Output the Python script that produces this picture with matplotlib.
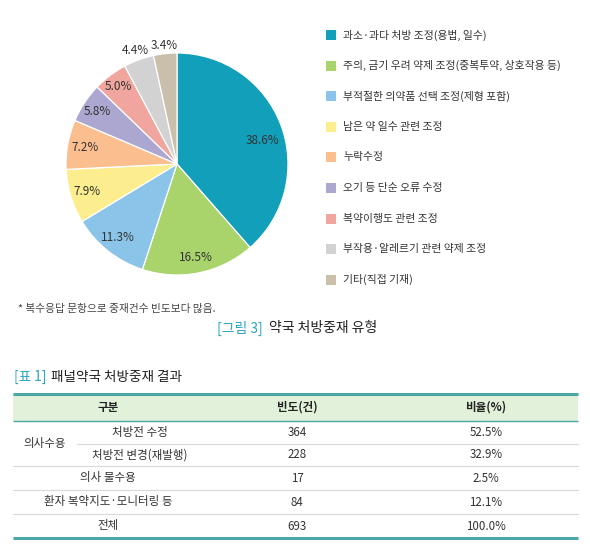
import matplotlib
matplotlib.use("Agg")
import matplotlib.pyplot as plt
from matplotlib.patches import Rectangle
import numpy as np

plt.rcParams['font.family'] = ['Noto Sans CJK KR', 'DejaVu Sans']

# ---------------- data ----------------
categories = ["과소·과다 처방 조정(용법, 일수)",
              "주의, 금기 우려 약제 조정(중복투약, 상호작용 등)",
              "부적절한 의약품 선택 조정(제형 포함)",
              "남은 약 일수 관련 조정",
              "누락수정",
              "오기 등 단순 오류 수정",
              "복약이행도 관련 조정",
              "부작용·알레르기 관련 약제 조정",
              "기타(직접 기재)"]
shares = [38.6, 16.5, 11.3, 7.9, 7.2, 5.8, 5.0, 4.4, 3.4]
share_labels = ["38.6%", "16.5%", "11.3%", "7.9%", "7.2%", "5.8%", "5.0%", "4.4%", "3.4%"]

table_header = ["구분", "빈도(건)", "비율(%)"]
group_label = "의사수용"
row_labels = ["처방전 수정", "처방전 변경(재발행)", "의사 불수용",
              "환자 복약지도·모니터링 등", "전체"]
row_counts = [364, 228, 17, 84, 693]
row_pcts = ["52.5%", "32.9%", "2.5%", "12.1%", "100.0%"]

footnote = "* 복수응답 문항으로 중재건수 빈도보다 많음."
fig_tag = "[그림 3]"
fig_title = "약국 처방중재 유형"
tab_tag = "[표 1]"
tab_title = "패널약국 처방중재 결과"

# ---------------- style ----------------
colors = ["#129fba", "#a9d36b", "#8ac4e8", "#fcee8e", "#fbbe8e",
          "#aba7d0", "#f0a69e", "#d2d2d2", "#c9bfaa"]
label_r = [0.80, 0.86, 0.85, 0.85, 0.84, 0.86, 0.88, 1.09, 1.07]
label_da = [-5, 0, 0, 0, 0, 0, 0, 0, 0]   # small angular nudges (deg)
teal = "#2aa5bd"
line_teal = "#4aa7a6"
txt = "#333333"

W, H = 590, 548
fig = plt.figure(figsize=(W / 100, H / 100), dpi=100)
fig.patch.set_facecolor("white")

# pie axes: center (177,164) px, radius 111 px
cx, cy, r = 177, 164, 111
ax = fig.add_axes([(cx - r) / W, (H - cy - r) / H, 2 * r / W, 2 * r / H])
wedges, _ = ax.pie(shares, colors=colors, startangle=90, counterclock=False,
                   radius=1.0, wedgeprops=dict(edgecolor="white", linewidth=0.9))
ax.set_xlim(-1, 1)
ax.set_ylim(-1, 1)
ax.set_aspect("equal")
ax.axis("off")
for w, lab, lr, da in zip(wedges, share_labels, label_r, label_da):
    ang = np.deg2rad((w.theta1 + w.theta2) / 2 + da)
    ax.text(lr * np.cos(ang), lr * np.sin(ang), lab, ha="center", va="center",
            fontsize=8.5, color=txt, clip_on=False)

# overlay axes in pixel coordinates
ov = fig.add_axes([0, 0, 1, 1])
ov.set_xlim(0, W)
ov.set_ylim(H, 0)
ov.axis("off")

# legend
for i, (cat, col) in enumerate(zip(categories, colors)):
    y = 35 + i * 30.6
    ov.add_patch(Rectangle((326, y - 5), 10, 10, facecolor=col, edgecolor="none"))
    ov.text(343, y, cat, ha="left", va="center", fontsize=7.8, color=txt)

inv = ov.transData.inverted()

def tag_title(x, y, tag, title, fs, gap):
    t = ov.text(x, y, tag, ha="left", va="center", fontsize=fs, color=teal)
    fig.canvas.draw()
    xd = inv.transform((t.get_window_extent().x1, 0))[0]
    ov.text(xd + gap, y, title, ha="left", va="center", fontsize=fs, color="#222222")

# footnote and caption
ov.text(18, 309, footnote, ha="left", va="center", fontsize=7.7, color="#444444")
tag_title(217, 328, fig_tag, fig_title, 10, 6)
tag_title(14, 377, tab_tag, tab_title, 9.8, 5)

# table
L, R = 13, 578
col_c = [108, 297, 486]
top, head_b = 394, 421
row_edges = [421, 443.5, 466, 490, 514, 538]
ov.add_patch(Rectangle((L, top), R - L, head_b - top, facecolor="#e2f1da", edgecolor="none"))
ov.plot([L, R], [top, top], color=line_teal, lw=2.2, solid_capstyle="butt")
ov.plot([L, R], [head_b, head_b], color=line_teal, lw=1.0, solid_capstyle="butt")
ov.plot([L, R], [row_edges[-1], row_edges[-1]], color=line_teal, lw=2.2, solid_capstyle="butt")
for k, yb in enumerate(row_edges[1:-1]):
    x0 = 77 if k == 0 else L
    ov.plot([x0, R], [yb, yb], color="#d8d8d8", lw=0.8)
for c, h in zip(col_c, table_header):
    ov.text(c, (top + head_b) / 2, h, ha="center", va="center", fontsize=8.3,
            fontweight="bold", color="#222222")
ov.text(45, row_edges[1], group_label, ha="center", va="center", fontsize=8.3, color=txt)
for i, (lab, cnt, pct) in enumerate(zip(row_labels, row_counts, row_pcts)):
    ym = (row_edges[i] + row_edges[i + 1]) / 2
    xl = 140 if i < 2 else col_c[0]
    ov.text(xl, ym, lab, ha="center", va="center", fontsize=8.3, color=txt)
    ov.text(col_c[1], ym, str(cnt), ha="center", va="center", fontsize=8.3, color=txt)
    ov.text(col_c[2], ym, pct, ha="center", va="center", fontsize=8.3, color=txt)

fig.savefig("out.png", dpi=100, facecolor="white")
